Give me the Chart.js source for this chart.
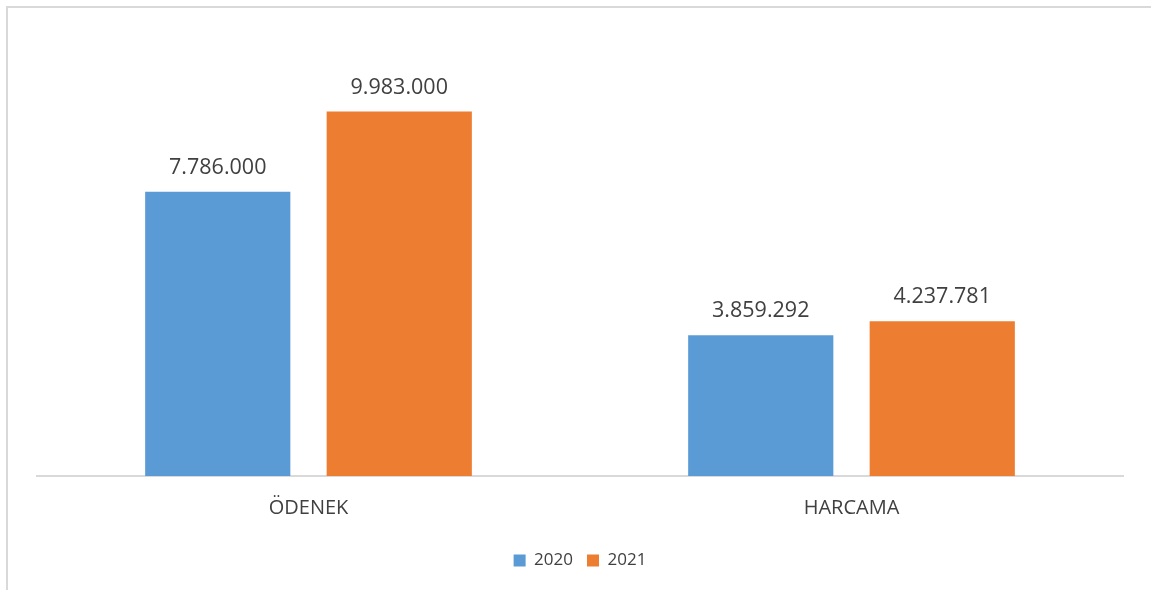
<!DOCTYPE html>
<html>
<head>
<meta charset="utf-8">
<script src="https://cdn.jsdelivr.net/npm/chart.js@4/dist/chart.umd.min.js"></script>
<style>
  html, body { margin: 0; padding: 0; background: #fff; overflow: hidden; }
  #frame { position: absolute; left: 6px; top: 6px; width: 1300px; height: 800px; border: 2px solid #d9d9d9; box-sizing: border-box; }
  #wrap { position: absolute; left: 0; top: 0; width: 1151px; height: 590px; }
</style>
</head>
<body>
<div id="frame"></div>
<div id="wrap"><canvas id="c" width="1151" height="590"></canvas></div>
<script>
const categories = ['ÖDENEK', 'HARCAMA'];
const seriesNames = ['2020', '2021'];
const values2020 = [7786000, 3859292];
const values2021 = [9983000, 4237781];
const colors = ['#5B9BD5', '#ED7D31'];

const fmt = v => v.toString().replace(/\B(?=(\d{3})+(?!\d))/g, '.');

const valueLabels = {
  id: 'valueLabels',
  afterDatasetsDraw(chart) {
    const ctx = chart.ctx;
    ctx.save();
    ctx.font = '21.5px "Open Sans"';
    ctx.fillStyle = '#404040';
    ctx.textAlign = 'center';
    ctx.textBaseline = 'alphabetic';
    chart.data.datasets.forEach((ds, i) => {
      chart.getDatasetMeta(i).data.forEach((bar, j) => {
        ctx.fillText(fmt(ds.data[j]), bar.x, bar.y - 18);
      });
    });
    ctx.restore();
  }
};

new Chart(document.getElementById('c'), {
  type: 'bar',
  data: {
    labels: categories,
    datasets: [
      { label: seriesNames[0], data: values2020, backgroundColor: colors[0] },
      { label: seriesNames[1], data: values2021, backgroundColor: colors[1] }
    ]
  },
  options: {
    responsive: false,
    animation: false,
    devicePixelRatio: 1,
    layout: { padding: { left: 37, right: 28, top: 38, bottom: 11 } },
    datasets: { bar: { categoryPercentage: 0.6685, barPercentage: 0.8 } },
    scales: {
      x: {
        grid: { display: false },
        border: { display: true, color: '#d9d9d9', width: 2 },
        ticks: { color: '#404040', font: { family: 'Open Sans', size: 20 }, padding: 12 },
        afterFit: (scale) => { scale.height += 6; }
      },
      y: {
        display: false,
        min: 0,
        max: 12000000
      }
    },
    plugins: {
      legend: {
        position: 'bottom',
        labels: {
          color: '#404040',
          font: { family: 'Open Sans', size: 17 },
          boxWidth: 12,
          boxHeight: 12,
          padding: 14
        }
      },
      tooltip: { enabled: false }
    }
  },
  plugins: [valueLabels]
});
</script>
</body>
</html>
